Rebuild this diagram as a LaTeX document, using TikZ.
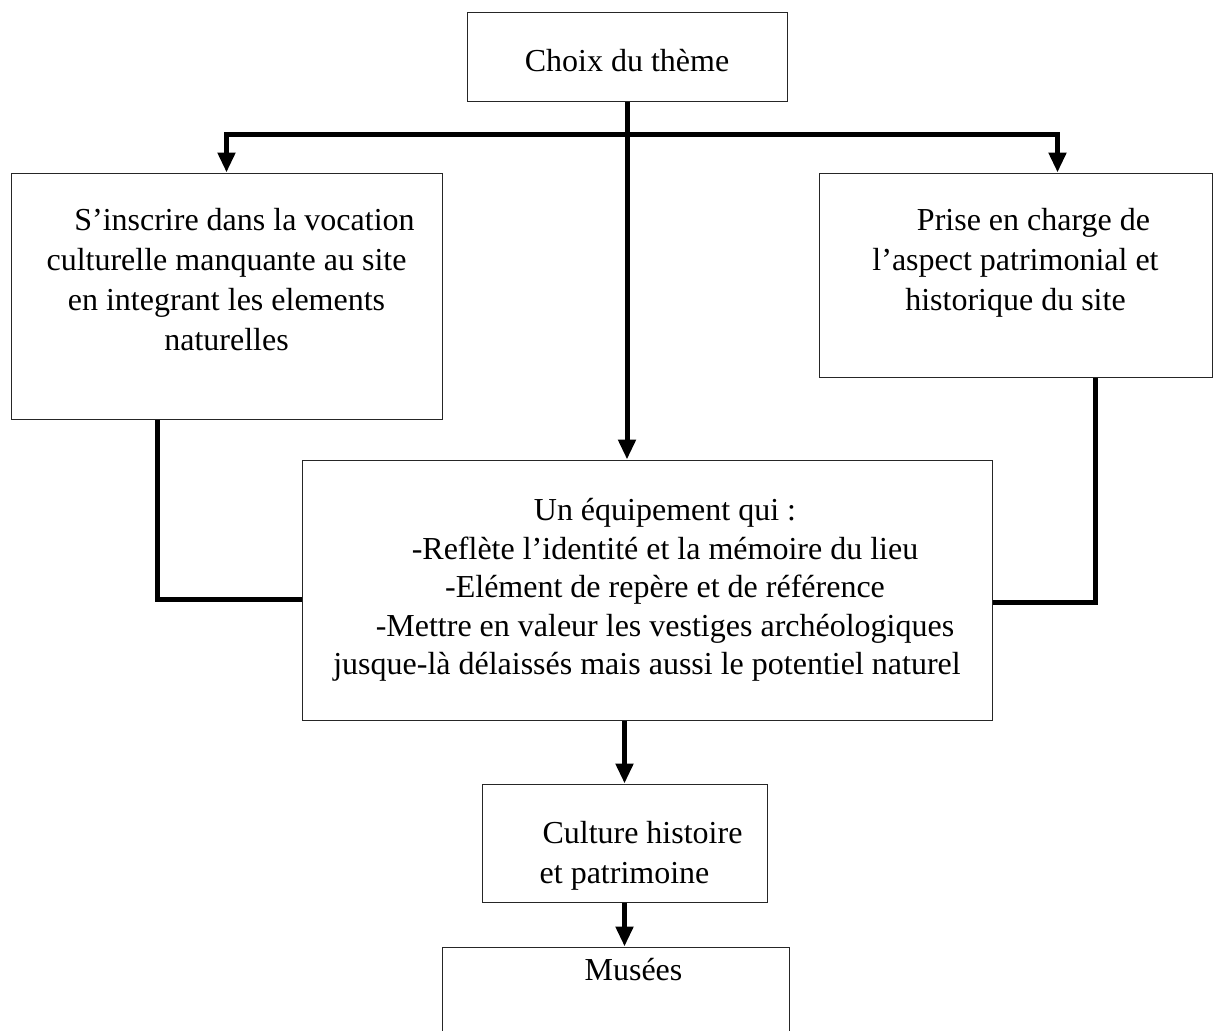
\documentclass[tikz,border=0pt]{standalone}
\usepackage{fontspec}
\setmainfont{Liberation Serif}
\usetikzlibrary{arrows.meta}
\newcommand{\boxtxt}[4]{\parbox[c][#1][t]{#2}{\centering\vspace*{#3}#4}}
\newcommand{\ind}{\hspace*{36pt}}

\begin{document}
\begin{tikzpicture}[x=1pt, y=-1pt,
    box/.style={draw=black!85, line width=1pt, inner sep=0pt, font=\fontsize{32}{40}\selectfont},
    conn/.style={line width=5pt},
    arrow/.style={conn, -{Triangle[width=17pt,length=20pt]}}]
\useasboundingbox (0,0) rectangle (1214,1030);
% Boxes
\node[box] (theme) at (627,57.5) {\boxtxt{89pt}{320pt}{31pt}{\strut Choix du thème}};
\node[box] (vocation) at (226.5,296) {\boxtxt{246pt}{431pt}{29pt}{\strut\ind S’inscrire dans la vocation\\ culturelle manquante au site\\ en integrant les elements\\ naturelles}};
\node[box] (patrimoine) at (1015.5,275) {\boxtxt{204pt}{393pt}{29pt}{\strut\ind Prise en charge de\\ l’aspect patrimonial et\\ historique du site}};
\node[box, font=\fontsize{32}{38.5}\selectfont] (equipement) at (647,590) {\boxtxt{260pt}{690pt}{34pt}{\strut\ind Un équipement qui :\\ \ind -Reflète l’identité et la mémoire du lieu\\ \ind -Elément de repère et de référence\\ \ind -Mettre en valeur les vestiges archéologiques\\ jusque-là délaissés mais aussi le potentiel naturel}};
\node[box] (culture) at (624.5,843) {\boxtxt{118pt}{285pt}{31pt}{\strut\ind Culture histoire\\ et patrimoine}};
\node[box] (musees) at (615.5,1003.5) {\boxtxt{113pt}{347pt}{5pt}{\strut\ind Musées}};
% Connections
\coordinate (fork) at (627,134);
\draw[arrow] (theme.south) -- (theme.south |- equipement.north);
\draw[arrow] (fork) -| (vocation.north);
\draw[arrow] (fork) -| ([xshift=42pt]patrimoine.north);
\draw[conn] ([xshift=-69.5pt]vocation.south) |- ([yshift=-9pt]equipement.west);
\draw[conn] ([xshift=79.5pt]patrimoine.south) |- ([yshift=-12pt]equipement.east);
\draw[arrow] (equipement.south -| culture.north) -- (culture.north);
\draw[arrow] (culture.south) -- (culture.south |- musees.north);
\end{tikzpicture}
\end{document}
